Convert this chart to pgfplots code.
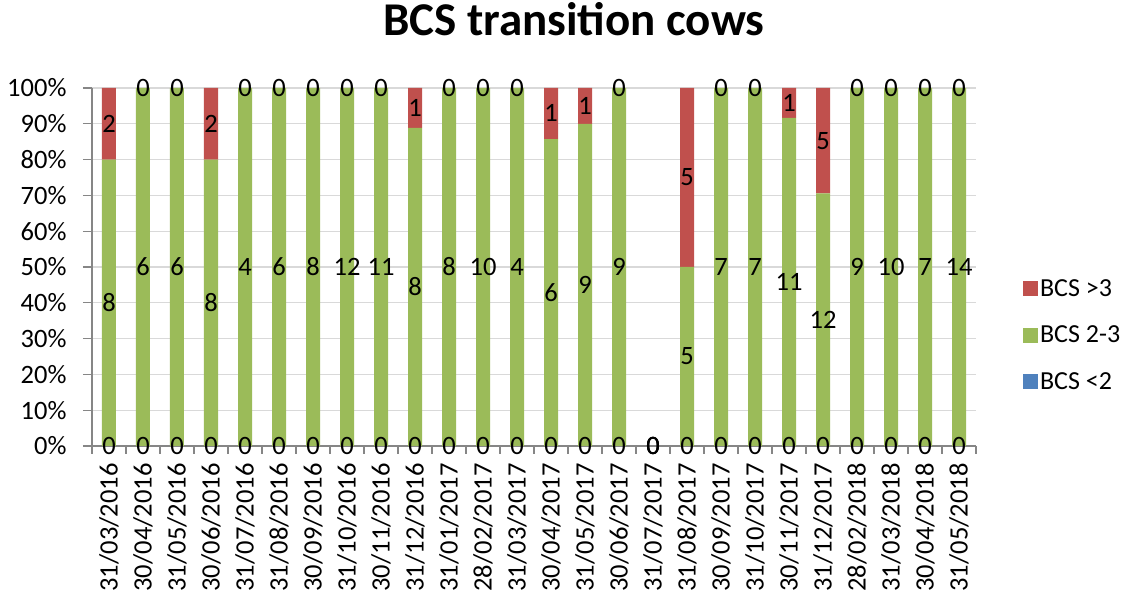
\documentclass[border=0pt]{standalone}
\usepackage{fontspec}
\setmainfont{Carlito}
\usepackage{pgfplots}
\usepackage{pgfplotstable}
\pgfplotsset{compat=1.18}
\definecolor{cred}{HTML}{C0504D}
\definecolor{cgreen}{HTML}{9BBB59}
\definecolor{cblue}{HTML}{4F81BD}
\definecolor{cgrid}{HTML}{D9D9D9}
\definecolor{caxis}{HTML}{868686}
\newcommand{\lblfont}{\fontsize{26.5}{31}\selectfont}
\newcommand{\legfont}{\fontsize{26}{31}\selectfont}

\pgfplotstableread{
x lo mid hi
0 0 80 20
1 0 100 0
2 0 100 0
3 0 80 20
4 0 100 0
5 0 100 0
6 0 100 0
7 0 100 0
8 0 100 0
9 0 88.89 11.11
10 0 100 0
11 0 100 0
12 0 100 0
13 0 85.71 14.29
14 0 90 10
15 0 100 0
16 0 0 0
17 0 50 50
18 0 100 0
19 0 100 0
20 0 91.67 8.33
21 0 70.59 29.41
22 0 100 0
23 0 100 0
24 0 100 0
25 0 100 0
}\bars

\pgfplotstableread{
x y lab
0 0 0
1 0 0
2 0 0
3 0 0
4 0 0
5 0 0
6 0 0
7 0 0
8 0 0
9 0 0
10 0 0
11 0 0
12 0 0
13 0 0
14 0 0
15 0 0
16 0 0
17 0 0
18 0 0
19 0 0
20 0 0
21 0 0
22 0 0
23 0 0
24 0 0
25 0 0
0 40 8
1 50 6
2 50 6
3 40 8
4 50 4
5 50 6
6 50 8
7 50 12
8 50 11
9 44.4 8
10 50 8
11 50 10
12 50 4
13 42.9 6
14 45 9
15 50 9
16 0 0
17 25 5
18 50 7
19 50 7
20 45.8 11
21 35.3 12
22 50 9
23 50 10
24 50 7
25 50 14
0 90 2
1 100 0
2 100 0
3 90 2
4 100 0
5 100 0
6 100 0
7 100 0
8 100 0
9 94.4 1
10 100 0
11 100 0
12 100 0
13 92.9 1
14 95 1
15 100 0
16 0 0
17 75 5
18 100 0
19 100 0
20 95.8 1
21 85.3 5
22 100 0
23 100 0
24 100 0
25 100 0
}\labels

\begin{document}
\begin{tikzpicture}
\begin{axis}[
  scale only axis, width=884pt, height=358pt,
  xmin=-0.5, xmax=25.5, ymin=0, ymax=100,
  ybar stacked, bar width=14pt,
  axis x line*=bottom, axis y line*=left,
  axis line style={caxis, line width=1.2pt, -},
  xtick={0,...,25},
  xticklabels={31/03/2016,30/04/2016,31/05/2016,30/06/2016,31/07/2016,31/08/2016,30/09/2016,31/10/2016,30/11/2016,31/12/2016,31/01/2017,28/02/2017,31/03/2017,30/04/2017,31/05/2017,30/06/2017,31/07/2017,31/08/2017,30/09/2017,31/10/2017,30/11/2017,31/12/2017,28/02/2018,31/03/2018,30/04/2018,31/05/2018},
  minor xtick={-0.5,0.5,...,25.5},
  major x tick style={draw=none},
  tick align=outside,
  ytick={0,10,...,100},
  yticklabels={0\%,10\%,20\%,30\%,40\%,50\%,60\%,70\%,80\%,90\%,100\%},
  ymajorgrids, grid style={cgrid, line width=1.2pt},
  tick style={caxis, line width=1.2pt},
  major tick length=9pt, minor tick length=8pt,
  ticklabel style={font=\lblfont, text=black},
  xticklabel style={rotate=90, anchor=east, xshift=-5pt},
  yticklabel style={xshift=-13pt},
  title={BCS transition cows},
  title style={font=\fontsize{47}{56}\selectfont\bfseries, at={(0.545,1)}, anchor=base, yshift=46pt},
  legend style={draw=none, fill=none, at={(1.0530,0.31)}, anchor=west, inner sep=0pt, row sep=24pt, font=\legfont},
  legend cell align=left,
  reverse legend,
  legend image code/.code={\fill[#1] (0pt,-7.5pt) rectangle (15pt,7.5pt);},
]
\addplot[fill=cblue, draw=none] table[x=x, y=lo] {\bars};
\addlegendentry{BCS <2}
\addplot[fill=cgreen, draw=none] table[x=x, y=mid] {\bars};
\addlegendentry{BCS 2-3}
\addplot[fill=cred, draw=none] table[x=x, y=hi] {\bars};
\addlegendentry{BCS >3}
\end{axis}
\begin{axis}[
  scale only axis, width=884pt, height=358pt,
  xmin=-0.5, xmax=25.5, ymin=0, ymax=100,
  hide axis, clip=false,
]
\addplot[only marks, mark=none, nodes near coords, point meta=explicit symbolic,
  nodes near coords align={anchor=center},
  every node near coord/.append style={font=\lblfont, inner sep=0pt, text=black, anchor=center}]
  table[x=x, y=y, meta=lab] {\labels};
\end{axis}
\pgfresetboundingbox
\path[use as bounding box] (-92pt,-150pt) rectangle (1035pt,446pt);
\end{tikzpicture}
\end{document}
